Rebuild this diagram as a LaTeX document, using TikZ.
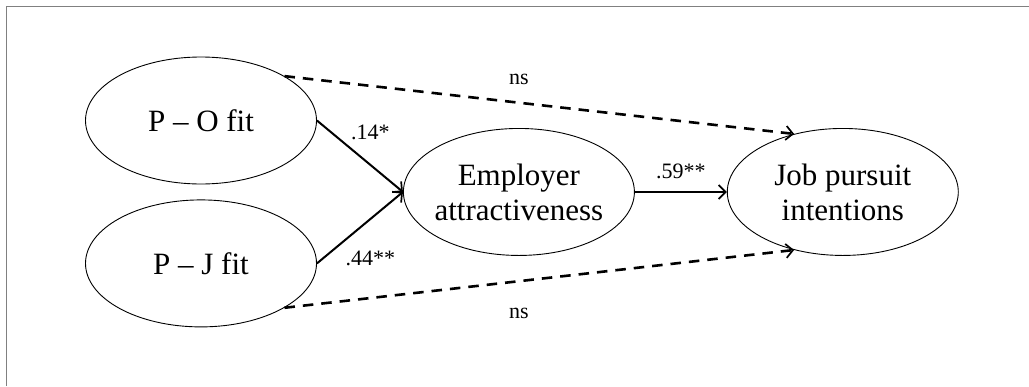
\documentclass[tikz,border=0pt]{standalone}
\usepackage{fontspec}
\setmainfont{Liberation Serif}
\usetikzlibrary{shapes,arrows.meta,positioning,calc}

\begin{document}
\begin{tikzpicture}[x=1pt,y=1pt,
    factor/.style={ellipse,draw,line width=.9pt,minimum width=231pt,minimum height=127pt,
      inner xsep=-4pt,inner ysep=0pt,align=center,font=\fontsize{31}{35}\selectfont},
    effect/.style={line width=2pt,-{Straight Barb[length=7pt,width=14pt,line width=1.7pt]}},
    nseffect/.style={effect,line width=2.6pt,dash pattern=on 10.5pt off 8pt},
    coef/.style={inner sep=0pt,font=\fontsize{22}{25}\selectfont}]
      \useasboundingbox (0,0) rectangle (1029,-386);
      \draw[gray,line width=1.5pt] (6.5,-386) -- (6.5,-6.5) -- (1029,-6.5);

      \node[factor](po) at (201,-120.5){P -- O fit};
      \node[factor,below=15pt of po](pj){P -- J fit};
      \coordinate (mid) at ($(po.east)!.5!(pj.east)$);
      \node[factor,right=86pt of mid](ea){Employer\\attractiveness};
      \node[factor,right=92pt of ea](jp){Job pursuit\\intentions};

      \draw[effect] (po.east) -- node[coef,pos=.62,above=24pt]{.14*} (ea.west);
      \draw[effect] (pj.east) -- node[coef,pos=.62,below=31pt]{.44**} (ea.west);
      \draw[effect] (ea) -- node[coef,above=12pt]{.59**} (jp);
      \draw[nseffect] (po.28) -- node[coef,pos=.46,above=17pt]{ns} (jp.130);
      \draw[nseffect] (pj.-28) -- node[coef,pos=.46,below=26pt]{ns} (jp.-130);
    \end{tikzpicture}
\end{document}
